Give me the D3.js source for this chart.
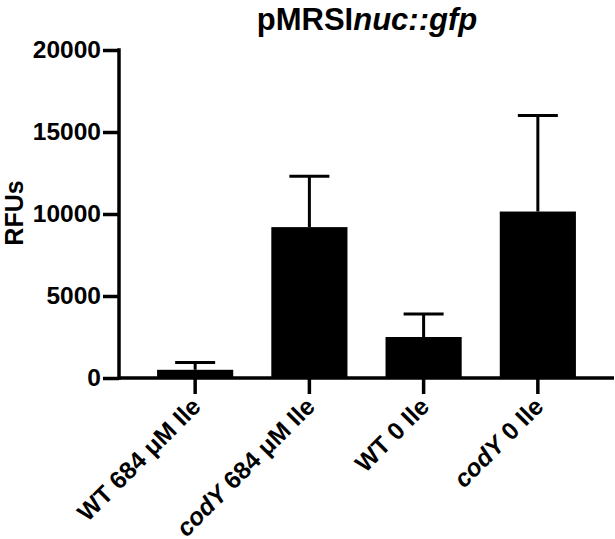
<!DOCTYPE html>
<html>
<head>
<meta charset="utf-8">
<script src="https://cdn.jsdelivr.net/npm/d3@7"></script>
<style>
  html, body { margin: 0; padding: 0; background: #fff; }
  svg { display: block; }
  text { font-family: "Liberation Sans", Arial, sans-serif; font-weight: bold; fill: #000; }
</style>
</head>
<body>
<svg id="chart" width="615" height="539"></svg>
<script>
// ---- data ----
const categories = ["WT 684 μM Ile", "codY 684 μM Ile", "WT 0 Ile", "codY 0 Ile"];
const italicPrefix = ["", "codY", "", "codY"];
const means = [500, 9200, 2500, 10150];
const errorsUp = [450, 3100, 1400, 5850];
const yTicks = [0, 5000, 10000, 15000, 20000];
const titlePlain = "pMRSI";
const titleItalic = "nuc::gfp";
const yLabel = "RFUs";

// ---- layout ----
const svg = d3.select("#chart");
const x0 = 119, x1 = 614, yBottom = 378, yTop = 50;

const x = d3.scaleBand().domain(categories).range([x0, x1])
  .paddingInner(1/3).paddingOuter(1/3);
const y = d3.scaleLinear().domain([0, 20000]).range([yBottom, yTop]);

// bars
svg.append("g").selectAll("rect").data(categories).join("rect")
  .attr("x", d => x(d))
  .attr("width", x.bandwidth())
  .attr("y", (d, i) => y(means[i]))
  .attr("height", (d, i) => yBottom - y(means[i]))
  .attr("fill", "#000");

// error bars
const eb = svg.append("g").attr("stroke", "#000").attr("stroke-width", 3);
categories.forEach((d, i) => {
  const cx = x(d) + x.bandwidth() / 2;
  eb.append("line").attr("x1", cx).attr("x2", cx)
    .attr("y1", y(means[i])).attr("y2", y(means[i] + errorsUp[i]));
  eb.append("line").attr("x1", cx - 20).attr("x2", cx + 20)
    .attr("y1", y(means[i] + errorsUp[i])).attr("y2", y(means[i] + errorsUp[i]));
});

// y axis
const yAxis = d3.axisLeft(y).tickValues(yTicks).tickSize(16).tickPadding(2).tickFormat(d3.format("d"));
const gy = svg.append("g").attr("transform", `translate(${x0},0)`).call(yAxis);
gy.select(".domain").remove();
gy.selectAll(".tick line").attr("stroke", "#000").attr("stroke-width", 3.5);
gy.selectAll(".tick text").attr("font-size", 24.5).attr("font-family", "Liberation Sans, Arial, sans-serif")
  .attr("font-weight", "bold").attr("fill", "#000");
svg.append("line").attr("x1", x0).attr("x2", x0).attr("y1", yTop - 1.75).attr("y2", yBottom + 1.75)
  .attr("stroke", "#000").attr("stroke-width", 3.5);

// x axis
const xAxis = d3.axisBottom(x).tickSize(16).tickFormat("");
const gx = svg.append("g").attr("transform", `translate(0,${yBottom})`).call(xAxis);
gx.select(".domain").remove();
gx.selectAll(".tick line").attr("stroke", "#000").attr("stroke-width", 3.5);
svg.append("line").attr("x1", x0).attr("x2", x1).attr("y1", yBottom).attr("y2", yBottom)
  .attr("stroke", "#000").attr("stroke-width", 3.5);

// x labels
categories.forEach((d, i) => {
  const cx = x(d) + x.bandwidth() / 2;
  const t = svg.append("text")
    .attr("transform", `translate(${cx + 7},${yBottom + 30}) rotate(-45)`)
    .attr("text-anchor", "end")
    .attr("font-size", 24.5);
  const pre = italicPrefix[i];
  if (pre) {
    t.append("tspan").attr("font-style", "italic").text(pre);
    t.append("tspan").text(d.slice(pre.length));
  } else {
    t.text(d);
  }
});

// y label
svg.append("text")
  .attr("transform", `translate(23,213) rotate(-90)`)
  .attr("text-anchor", "middle")
  .attr("font-size", 25)
  .text(yLabel);

// title
const title = svg.append("text")
  .attr("x", 367).attr("y", 30)
  .attr("text-anchor", "middle")
  .attr("font-size", 31);
title.append("tspan").text(titlePlain);
title.append("tspan").attr("font-style", "italic").text(titleItalic);
</script>
</body>
</html>
